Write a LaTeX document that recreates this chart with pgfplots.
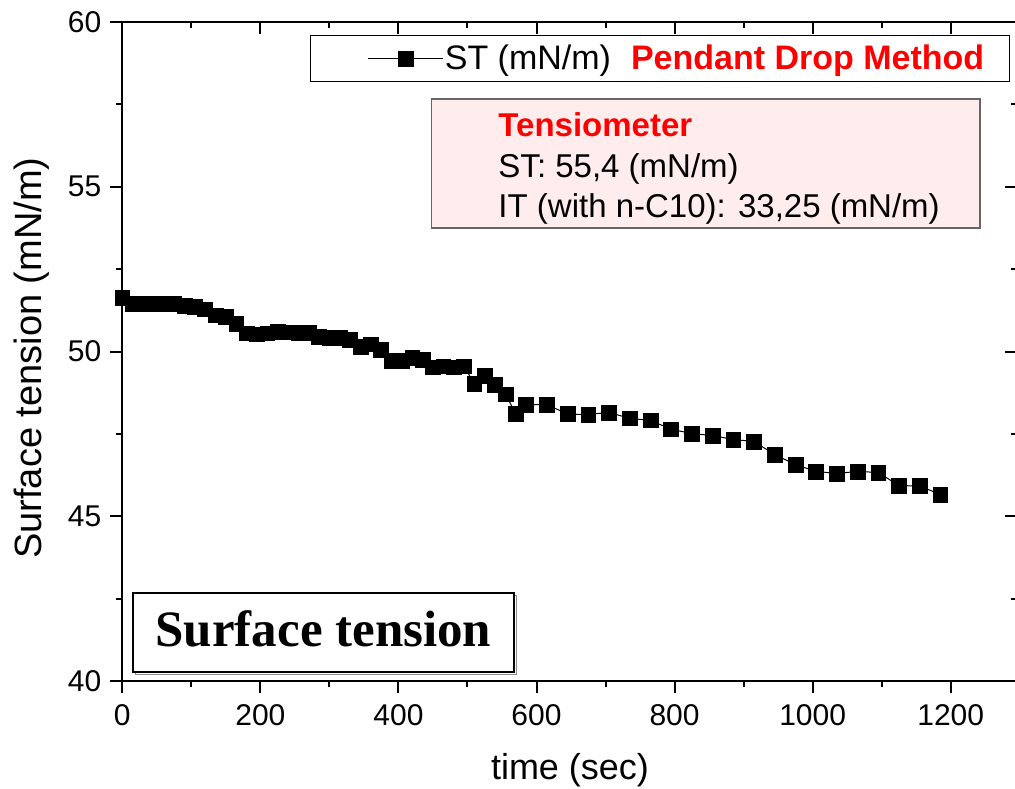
\documentclass[border=0pt]{standalone}
\usepackage{pgfplots}
\pgfplotsset{compat=1.18}
\usepackage{pgfplotstable}
\usepackage{fontspec}
\setmainfont{Liberation Sans}
\newfontfamily\serifbold{Liberation Serif}
\definecolor{boxpink}{RGB}{255,236,236}
\definecolor{stred}{RGB}{255,0,0}

\pgfplotstableread{
t y
0 51.62
15 51.45
30 51.45
45 51.45
60 51.44
75 51.44
90 51.38
105 51.35
120 51.28
135 51.10
150 51.05
165 50.85
180 50.55
195 50.52
210 50.55
225 50.60
240 50.58
255 50.57
270 50.56
285 50.45
300 50.42
315 50.42
330 50.35
345 50.15
360 50.22
375 50.05
390 49.73
405 49.72
420 49.82
435 49.76
450 49.52
465 49.55
480 49.52
495 49.55
510 49.02
525 49.26
540 48.98
555 48.70
570 48.12
585 48.38
615 48.39
645 48.10
675 48.09
705 48.15
735 47.97
765 47.91
795 47.64
825 47.51
855 47.45
885 47.33
915 47.27
945 46.87
975 46.57
1005 46.36
1035 46.30
1065 46.36
1095 46.33
1125 45.93
1155 45.92
1185 45.66
}\stdata

\begin{document}
\begin{tikzpicture}
\pgfplotsset{
  common/.style={
    at={(61.15pt,53.5pt)}, anchor=south west,
    width=447.35pt, height=329.5pt, scale only axis,
    xmin=0, xmax=1296, ymin=40, ymax=60,
    xtick={0,200,...,1200}, ytick={40,45,...,60},
    minor xtick={100,300,...,1300}, minor ytick={42.5,47.5,52.5,57.5},
    major tick length=6pt, minor tick length=3.2pt,
    axis line style={line width=1pt},
    every tick/.style={line width=1pt, black},
    /pgf/number format/assume math mode=true,
    /pgf/number format/1000 sep={},
  }
}
\begin{axis}[common,
  xtick pos=left, ytick pos=left, tick align=outside,
  ticklabel style={font=\fontsize{15}{18}\selectfont},
  xticklabel style={yshift=-2pt},
  yticklabel style={xshift=-1pt},
  xlabel={time (sec)}, ylabel={Surface tension (mN/m)},
  xlabel style={font=\fontsize{18}{21}\selectfont, at={(axis description cs:0.5004,-0.1487)}, anchor=base},
  ylabel style={font=\fontsize{19}{22}\selectfont, at={(axis description cs:-0.101,0.49)}, anchor=center},
  legend style={at={(rel axis cs:0.992,0.980)}, anchor=north east,
    draw=black, line width=0.6pt, fill=white,
    font=\fontsize{17}{19.5}\selectfont,
    inner xsep=2pt, inner ysep=2.5pt,
    nodes={inner xsep=0.5pt}},
  legend image code/.code={
    \path (-26.5pt,0pt);
    \draw[#1, line width=0.5pt, mark repeat=2, mark phase=2] plot coordinates {(0pt,0pt) (18.75pt,0pt) (37.5pt,0pt)};
  },
]
\addplot[black, line width=0.5pt, mark=square*, mark size=3.7pt,
  mark options={fill=black, draw=black, line width=0.3pt}] table[x=t, y=y] {\stdata};
\addlegendentry{ST (mN/m)\hspace*{10pt}\textcolor{stred}{\bfseries Pendant Drop Method}\hspace*{10pt}}

% Tensiometer box
\draw[draw=black!60, line width=0.6pt, fill=boxpink]
  (rel axis cs:0.346,0.6874) rectangle (rel axis cs:0.9587,0.8832);
\node[anchor=base west, inner sep=0pt, font=\fontsize{16.5}{19}\selectfont\bfseries, text=stred]
  at (rel axis cs:0.42,0.8255) {Tensiometer};
\node[anchor=base west, inner sep=0pt, font=\fontsize{16.5}{19}\selectfont]
  at (rel axis cs:0.42,0.7633) {ST: 55,4 (mN/m)};
\node[anchor=base west, inner sep=0pt, font=\fontsize{16.5}{19}\selectfont]
  at (rel axis cs:0.42,0.7041) {IT (with n-C10): 33,25 (mN/m)};

% Surface tension box
\draw[draw=black!45, line width=0.8pt]
  ([shift={(1.2pt,-1.2pt)}]rel axis cs:0.0120,0.01366) rectangle ([shift={(1.2pt,-1.2pt)}]rel axis cs:0.4378,0.1335);
\draw[draw=black, line width=0.6pt, fill=white]
  (rel axis cs:0.0120,0.01366) rectangle (rel axis cs:0.4378,0.1335);
\node[anchor=base, inner sep=0pt, font=\serifbold\fontsize{25.5}{30}\selectfont\bfseries]
  at (rel axis cs:0.2248,0.0522) {Surface tension};
\end{axis}

\begin{axis}[common,
  xtick pos=right, tick align=inside,
  ytick pos=right,
  xticklabels={}, yticklabels={},
]
\end{axis}
\pgfresetboundingbox
\path (0pt,0pt) rectangle (507.5pt,394pt);
\end{tikzpicture}
\end{document}
